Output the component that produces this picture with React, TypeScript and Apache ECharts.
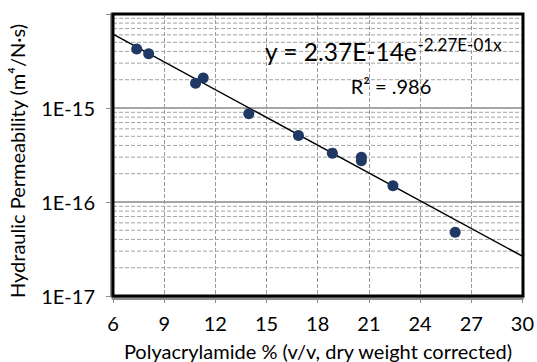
import React, { useEffect, useRef } from "react";
import * as echarts from "echarts";

// Data
const pamPercent = [7.39, 8.09, 10.84, 11.29, 13.96, 16.87, 18.86, 20.56, 20.56, 22.41, 26.06];
const permeability = [4.25e-15, 3.78e-15, 1.83e-15, 2.08e-15, 8.7e-16, 5.1e-16, 3.31e-16, 3.0e-16, 2.74e-16, 1.49e-16, 4.77e-17];
// Trendline endpoints as drawn in the reference
const trendX = [6, 30];
const trendY = [6.1e-15, 2.65e-17];
// Minor (2..9 per decade) horizontal grid values
const minorGridValues = [
  2e-17, 3e-17, 4e-17, 5e-17, 6e-17, 7e-17, 8e-17, 9e-17,
  2e-16, 3e-16, 4e-16, 5e-16, 6e-16, 7e-16, 8e-16, 9e-16,
  2e-15, 3e-15, 4e-15, 5e-15, 6e-15, 7e-15, 8e-15, 9e-15,
];
const xMin = 6;
const xMax = 30;
const equationMain = "y = 2.37E-14e";
const equationExp = "-2.27E-01x";
const rSquared = "R² = .986";
const xTitle = "Polyacrylamide % (v/v, dry weight corrected)";
const yTitle = "Hydraulic Permeability (m⁴/N·s)";

const FONT = "Lato, 'Open Sans', sans-serif";

export default function App() {
  const ref = useRef<HTMLDivElement>(null);
  useEffect(() => {
    if (!ref.current) return;
    const chart = echarts.init(ref.current, undefined, { renderer: "svg" });
    const minorSeries = minorGridValues.map((v) => ({
      type: "line",
      data: [
        [xMin, v],
        [xMax, v],
      ],
      symbol: "none",
      silent: true,
      lineStyle: { color: "#a3a3a3", width: 1, type: "dashed" },
      z: 1,
    }));
    const option: any = {
      animation: false,
      backgroundColor: "#fff",
      grid: { left: 113, top: 14, right: 14, bottom: 66 },
      xAxis: {
        type: "value",
        min: xMin,
        max: xMax,
        interval: 3,
        offset: 2,
        axisLine: { show: true, lineStyle: { color: "#8c8c8c", width: 3 } },
        axisTick: { show: true, length: 5, lineStyle: { color: "#8c8c8c", width: 1 } },
        axisLabel: { color: "#000", fontSize: 20, fontFamily: FONT, margin: 15 },
        splitLine: { show: true, lineStyle: { color: "#9a9a9a", width: 1, type: "dashed" } },
      },
      yAxis: {
        type: "log",
        logBase: 10,
        min: 1e-17,
        max: 1e-14,
        offset: 2,
        axisLine: { show: true, lineStyle: { color: "#8c8c8c", width: 3 } },
        axisTick: { show: true, length: 5, lineStyle: { color: "#8c8c8c", width: 1 } },
        axisLabel: {
          color: "#000",
          fontSize: 20,
          fontFamily: FONT,
          margin: 16,
          formatter: (v: number) => {
            const e = Math.round(Math.log10(v));
            return e >= -14 ? "" : "1E" + e;
          },
        },
        splitLine: { show: true, lineStyle: { color: "#a6a6a6", width: 2 } },
      },
      series: [
        ...minorSeries,
        {
          type: "line",
          data: trendX.map((x, i) => [x, trendY[i]]),
          symbol: "none",
          silent: true,
          lineStyle: { color: "#000", width: 1.5 },
          z: 3,
        },
        {
          type: "scatter",
          data: pamPercent.map((x, i) => [x, permeability[i]]),
          symbol: "circle",
          symbolSize: 11,
          itemStyle: { color: "#1f3864", opacity: 1 },
          z: 4,
        },
      ],
      graphic: [
        {
          type: "rect",
          z: 100,
          silent: true,
          shape: { x: 113, y: 14, width: 410, height: 282 },
          style: { fill: "none", stroke: "#000", lineWidth: 3 },
        },
        {
          type: "text",
          z: 100,
          x: 265,
          y: 36,
          style: {
            text: "{a|" + equationMain + "}{b|" + equationExp + "}",
            verticalAlign: "top",
            textVerticalAlign: "top",
            rich: {
              a: { fontSize: 24.5, fontFamily: FONT, fill: "#000", lineHeight: 30 },
              b: { fontSize: 17, fontFamily: FONT, fill: "#000", verticalAlign: "top" },
            },
          },
        },
        {
          type: "text",
          z: 100,
          x: 391,
          y: 86,
          style: {
            text: rSquared,
            fontSize: 20,
            fontFamily: FONT,
            fill: "#000",
            align: "center",
            verticalAlign: "middle",
            textAlign: "center",
            textVerticalAlign: "middle",
          },
        },
        {
          type: "text",
          z: 100,
          x: 318,
          y: 351,
          style: {
            text: xTitle,
            fontSize: 20,
            fontFamily: FONT,
            fill: "#000",
            align: "center",
            verticalAlign: "middle",
            textAlign: "center",
            textVerticalAlign: "middle",
          },
        },
        {
          type: "text",
          z: 100,
          x: 17,
          y: 161,
          rotation: Math.PI / 2,
          style: {
            text: yTitle,
            fontSize: 20,
            fontFamily: FONT,
            fill: "#000",
            align: "center",
            verticalAlign: "middle",
            textAlign: "center",
            textVerticalAlign: "middle",
          },
        },
      ],
    };
    chart.setOption(option);
    return () => chart.dispose();
  }, []);
  return <div ref={ref} style={{ width: 537, height: 362, position: "absolute", left: 0, top: 0 }} />;
}
